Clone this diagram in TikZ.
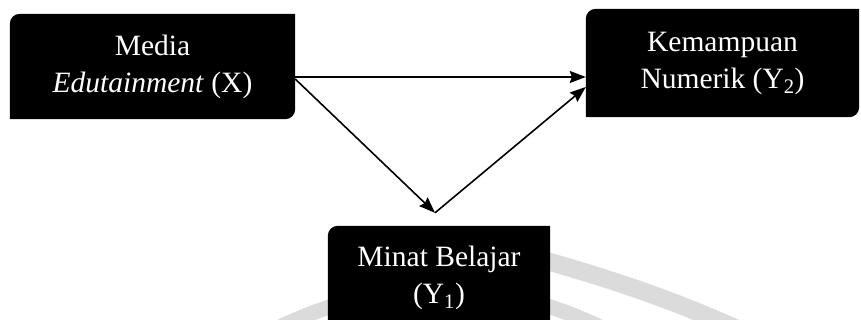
\documentclass[tikz,border=0pt]{standalone}
\usepackage{fontspec}
\setmainfont{Liberation Serif}
\usetikzlibrary{arrows.meta,backgrounds}

% black box with rounded top-left and bottom-right corners behind node #1
\newcommand\diagbox[1]{%
  \fill[black] (#1.south west) -- ([yshift=-10pt]#1.north west)
    arc[start angle=180,end angle=90,radius=10pt] -- (#1.north east)
    -- ([yshift=10pt]#1.south east)
    arc[start angle=0,end angle=-90,radius=10pt] -- cycle;}

\begin{document}
\begin{tikzpicture}[x=1pt,y=1pt,
  label/.style={text=white,align=center,inner sep=0pt,
    font=\fontsize{29.5}{37}\selectfont},
  link/.style={line width=1.6pt,-{Stealth[length=16pt,width=12pt,inset=2pt]}},
  mark band/.style={line width=18pt,draw=black!14}]
\useasboundingbox (0,0) rectangle (861,320);

\node[label,minimum width=285pt,minimum height=105pt] (m) at (152.5,253.5)
  {Media\\\textit{Edutainment} (X)};
\node[label,minimum width=273pt,minimum height=108pt] (k) at (722.5,257)
  {Kemampuan\\Numerik (Y\textsubscript{2})};
\node[label,minimum width=222pt,minimum height=104pt] (y) at (439,42)
  {Minat Belajar\\(Y\textsubscript{1})};

\begin{scope}[on background layer]
  % faint watermark bands, partly hidden by the boxes
  \draw[mark band] (500,72) .. controls (580,50) and (650,30) .. (735,-8);
  \draw[mark band,line width=15pt] (270,-12) .. controls (380,45) and (500,45) .. (610,-12);
  \diagbox{m}
  \diagbox{k}
  \diagbox{y}
\end{scope}

\coordinate (apex) at ([xshift=-4pt,yshift=13pt]y.north);

\draw[link] ([yshift=-10.5pt]m.east) -- ([yshift=-14pt]k.west);
\draw[link] ([yshift=-12.5pt]m.east) -- (apex);
\draw[link] (apex) -- ([yshift=-24pt]k.west);
\end{tikzpicture}
\end{document}
